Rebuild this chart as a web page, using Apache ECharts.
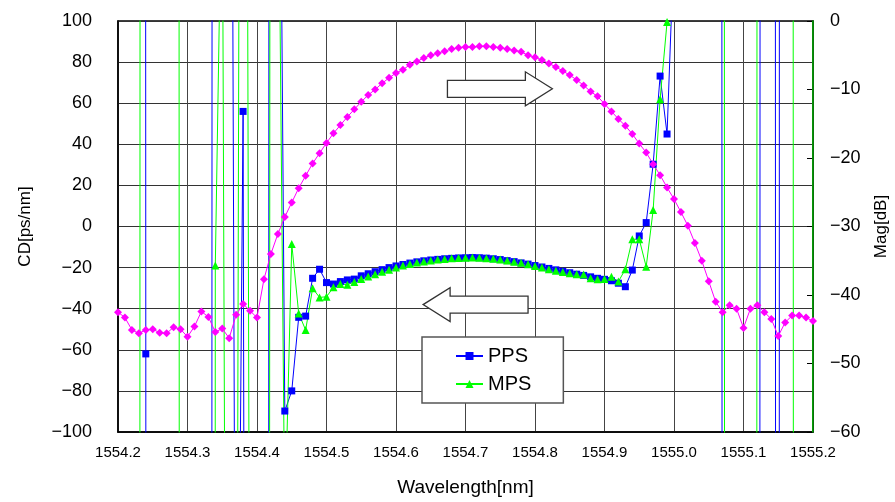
<!DOCTYPE html>
<html>
<head>
<meta charset="utf-8">
<script src="https://cdn.jsdelivr.net/npm/echarts@6/dist/echarts.min.js"></script>
<style>
  html, body { margin: 0; padding: 0; background: #fff; }
  #chart { width: 895px; height: 502px; }
</style>
</head>
<body>
<div id="chart"></div>
<script>
// wavelength sampling [nm]
var wavelength = [
  1554.20, 1554.21, 1554.22, 1554.23, 1554.24, 1554.25, 1554.26, 1554.27, 1554.28, 1554.29,
  1554.30, 1554.31, 1554.32, 1554.33, 1554.34, 1554.35, 1554.36, 1554.37, 1554.38, 1554.39,
  1554.40, 1554.41, 1554.42, 1554.43, 1554.44, 1554.45, 1554.46, 1554.47, 1554.48, 1554.49,
  1554.50, 1554.51, 1554.52, 1554.53, 1554.54, 1554.55, 1554.56, 1554.57, 1554.58, 1554.59,
  1554.60, 1554.61, 1554.62, 1554.63, 1554.64, 1554.65, 1554.66, 1554.67, 1554.68, 1554.69,
  1554.70, 1554.71, 1554.72, 1554.73, 1554.74, 1554.75, 1554.76, 1554.77, 1554.78, 1554.79,
  1554.80, 1554.81, 1554.82, 1554.83, 1554.84, 1554.85, 1554.86, 1554.87, 1554.88, 1554.89,
  1554.90, 1554.91, 1554.92, 1554.93, 1554.94, 1554.95, 1554.96, 1554.97, 1554.98, 1554.99,
  1555.00, 1555.01, 1555.02, 1555.03, 1555.04, 1555.05, 1555.06, 1555.07, 1555.08, 1555.09,
  1555.10, 1555.11, 1555.12, 1555.13, 1555.14, 1555.15, 1555.16, 1555.17, 1555.18, 1555.19,
  1555.20
];

// CD [ps/nm] - PPS (out of band values are huge, they go off the chart)
var pps = [
  6000, 6000, 6000, 8000, -62, -8000, -6000, -6000, -6000, -6000,
  -6000, -6000, -6000, -5200, 4800, 3000, 600, -350, 56, -1500,
  -3000, -7000, 3000, 357, -89.8, -80.0, -44.2, -43.6, -25.2, -20.8,
  -27.3, -28.0, -26.8, -26.0, -25.6, -24.0, -23.0, -22.0, -21.0, -20.0,
  -19.2, -18.5, -17.8, -17.2, -16.7, -16.3, -16.0, -15.7, -15.5, -15.3,
  -15.2, -15.1, -15.2, -15.4, -15.7, -16.1, -16.6, -17.1, -17.7, -18.3,
  -19.0, -19.7, -20.4, -21.1, -21.8, -22.5, -23.2, -23.8, -24.5, -25.2,
  -25.7, -26.4, -27.6, -29.3, -21.2, -4.6, 1.9, 30.3, 73.2, 45.0,
  137, 4000, 4000, 4000, 4000, 4000, 9000, -1000, -4000, -4000,
  -4000, -4000, -3700, 6300, 6000, -4000, 22000, 8000, 8000, 8000,
  8000
];

// CD [ps/nm] - MPS
var mps = [
  -5000, -5000, -5000, -2000, 10500, 8000, 8000, 8000, 8000, -2000,
  -3000, -3000, -3000, -10000, -19, 190, -710, -400, 900, -300,
  -3000, -5000, 1000, 215, -145, -8.5, -42.3, -50.4, -30.1, -34.5,
  -34.2, -29.6, -28.0, -28.3, -27.0, -25.5, -24.3, -23.2, -22.0, -21.0,
  -20.0, -19.0, -18.2, -17.5, -17.0, -16.5, -16.1, -15.8, -15.5, -15.3,
  -15.2, -15.1, -15.2, -15.4, -15.7, -16.1, -16.6, -17.1, -17.7, -18.4,
  -19.2, -20.0, -20.8, -21.5, -22.2, -22.8, -23.2, -23.3, -25.2, -25.7,
  -25.5, -24.4, -26.8, -20.8, -6.2, -6.2, -19.6, 8.0, 61.9, 99.5,
  3000, 3000, 3000, 3000, 3000, 3000, 3000, 2600, -7400, -5000,
  -5000, -9300, 700, 3000, 3000, 3000, 3000, 1600, -8400, -20000,
  200
];

// Mag [dB]
var mag = [
  -42.5, -43.3, -45.1, -45.6, -45.1, -45.0, -45.5, -45.6, -44.7, -45.0,
  -46.1, -44.6, -42.4, -43.2, -45.4, -44.9, -46.3, -42.9, -41.3, -42.3,
  -43.3, -37.7, -34.0, -31.1, -28.6, -26.5, -24.4, -22.6, -20.8, -19.3,
  -17.8, -16.4, -15.2, -14.0, -12.9, -11.8, -10.8, -10.0, -9.1, -8.3,
  -7.6, -7.1, -6.4, -5.9, -5.4, -5.0, -4.7, -4.4, -4.1, -3.9,
  -3.8, -3.8, -3.7, -3.7, -3.8, -3.9, -4.1, -4.3, -4.5, -5.0,
  -5.3, -5.7, -6.2, -6.7, -7.3, -7.9, -8.6, -9.4, -10.3, -11.0,
  -12.1, -13.2, -14.3, -15.3, -16.5, -17.9, -19.2, -20.9, -22.5, -24.3,
  -26.0, -27.9, -29.9, -32.4, -35.0, -38.0, -41.0, -42.5, -41.5, -42.0,
  -44.8, -42.0, -41.5, -42.5, -43.5, -46.0, -44.0, -43.0, -43.0, -43.3,
  -43.8
];

// hollow arrows, anchored in (wavelength, CD) units
var arrowRight = { from: 1554.674, to: 1554.825, cd: 67 };
var arrowLeft = { from: 1554.790, to: 1554.639, cd: -38 };

function pairs(ys) {
  return wavelength.map(function (x, i) { return [x, ys[i]]; });
}
function minus(v) { return String(v).replace('-', '\u2212'); }

var font = "'Liberation Sans', Arial, sans-serif";
var myChart = echarts.init(document.getElementById('chart'), null, { renderer: 'canvas' });

var option = {
  animation: false,
  backgroundColor: '#fff',
  textStyle: { fontFamily: font, color: '#000' },
  grid: {
    left: 118, right: 82, top: 21, bottom: 70, outerBoundsMode: 'none',
    show: true, borderColor: '#000', borderWidth: 1.5
  },
  legend: {
    data: ['PPS', 'MPS'],
    orient: 'vertical',
    left: 422, top: 337,
    padding: [9, 32, 9, 33],
    itemGap: 8,
    itemWidth: 27, itemHeight: 10,
    backgroundColor: '#fff',
    borderColor: '#555', borderWidth: 1.5,
    textStyle: { fontSize: 20, fontFamily: font, color: '#000' }
  },
  xAxis: {
    type: 'value', min: 1554.2, max: 1555.2, interval: 0.1,
    name: 'Wavelength[nm]', nameLocation: 'middle', nameGap: 46,
    nameTextStyle: { fontSize: 19, color: '#000' },
    axisLine: { onZero: false, lineStyle: { color: '#000', width: 1.5 } },
    axisTick: { show: false },
    axisLabel: { fontSize: 15, margin: 13, color: '#000', formatter: function (v) { return v.toFixed(1); } },
    splitLine: { show: true, lineStyle: { color: '#444', width: 1 } }
  },
  yAxis: [{
    type: 'value', min: -100, max: 100, interval: 20,
    name: 'CD[ps/nm]', nameLocation: 'middle', nameGap: 84, nameRotate: 90,
    nameTextStyle: { fontSize: 17, color: '#000' },
    axisLine: { show: true, onZero: false, lineStyle: { color: '#000', width: 1.5 } },
    axisTick: { show: false },
    axisLabel: { fontSize: 18, margin: 26, color: '#000', formatter: minus },
    splitLine: { show: true, lineStyle: { color: '#333', width: 1 } }
  }, {
    type: 'value', min: -60, max: 0, interval: 10, position: 'right',
    name: 'Mag[dB]', nameLocation: 'middle', nameGap: 60, nameRotate: 90,
    nameTextStyle: { fontSize: 17, color: '#000' },
    axisLine: { show: true, onZero: false, lineStyle: { color: '#000', width: 1.5 } },
    axisTick: { show: true, inside: true, length: 6, lineStyle: { color: '#000' } },
    axisLabel: { fontSize: 18, margin: 17, color: '#000', formatter: minus },
    splitLine: { show: false }
  }],
  series: [{
    name: 'PPS', type: 'line', yAxisIndex: 0, data: pairs(pps),
    symbol: 'rect', symbolSize: 7, showAllSymbol: true, clip: true,
    lineStyle: { color: '#0000ff', width: 1 }, itemStyle: { color: '#0000ff' }
  }, {
    name: 'MPS', type: 'line', yAxisIndex: 0, data: pairs(mps),
    symbol: 'triangle', symbolSize: 8, showAllSymbol: true, clip: true,
    lineStyle: { color: '#00ff00', width: 1 }, itemStyle: { color: '#00ff00' }
  }, {
    name: 'Mag', type: 'line', yAxisIndex: 1, data: pairs(mag),
    symbol: 'diamond', symbolSize: 8, showAllSymbol: true, clip: true,
    lineStyle: { color: '#ff00ff', width: 1 }, itemStyle: { color: '#ff00ff' }
  }]
};
myChart.setOption(option, true);

// draw the block arrows after the axes exist
function arrowShape(a) {
  var p0 = myChart.convertToPixel({ xAxisIndex: 0, yAxisIndex: 0 }, [a.from, a.cd]);
  var p1 = myChart.convertToPixel({ xAxisIndex: 0, yAxisIndex: 0 }, [a.to, a.cd]);
  var dir = p1[0] > p0[0] ? 1 : -1;
  var head = 27, bh = 8.5, hh = 17;
  var xb = p1[0] - dir * head, y = p0[1];
  return {
    type: 'polygon', z: 50,
    shape: { points: [[p0[0], y - bh], [xb, y - bh], [xb, y - hh], [p1[0], y], [xb, y + hh], [xb, y + bh], [p0[0], y + bh]] },
    style: { fill: '#fff', stroke: '#333', lineWidth: 1.3 }
  };
}
myChart.setOption({ graphic: [arrowShape(arrowRight), arrowShape(arrowLeft)] });
</script>
</body>
</html>
